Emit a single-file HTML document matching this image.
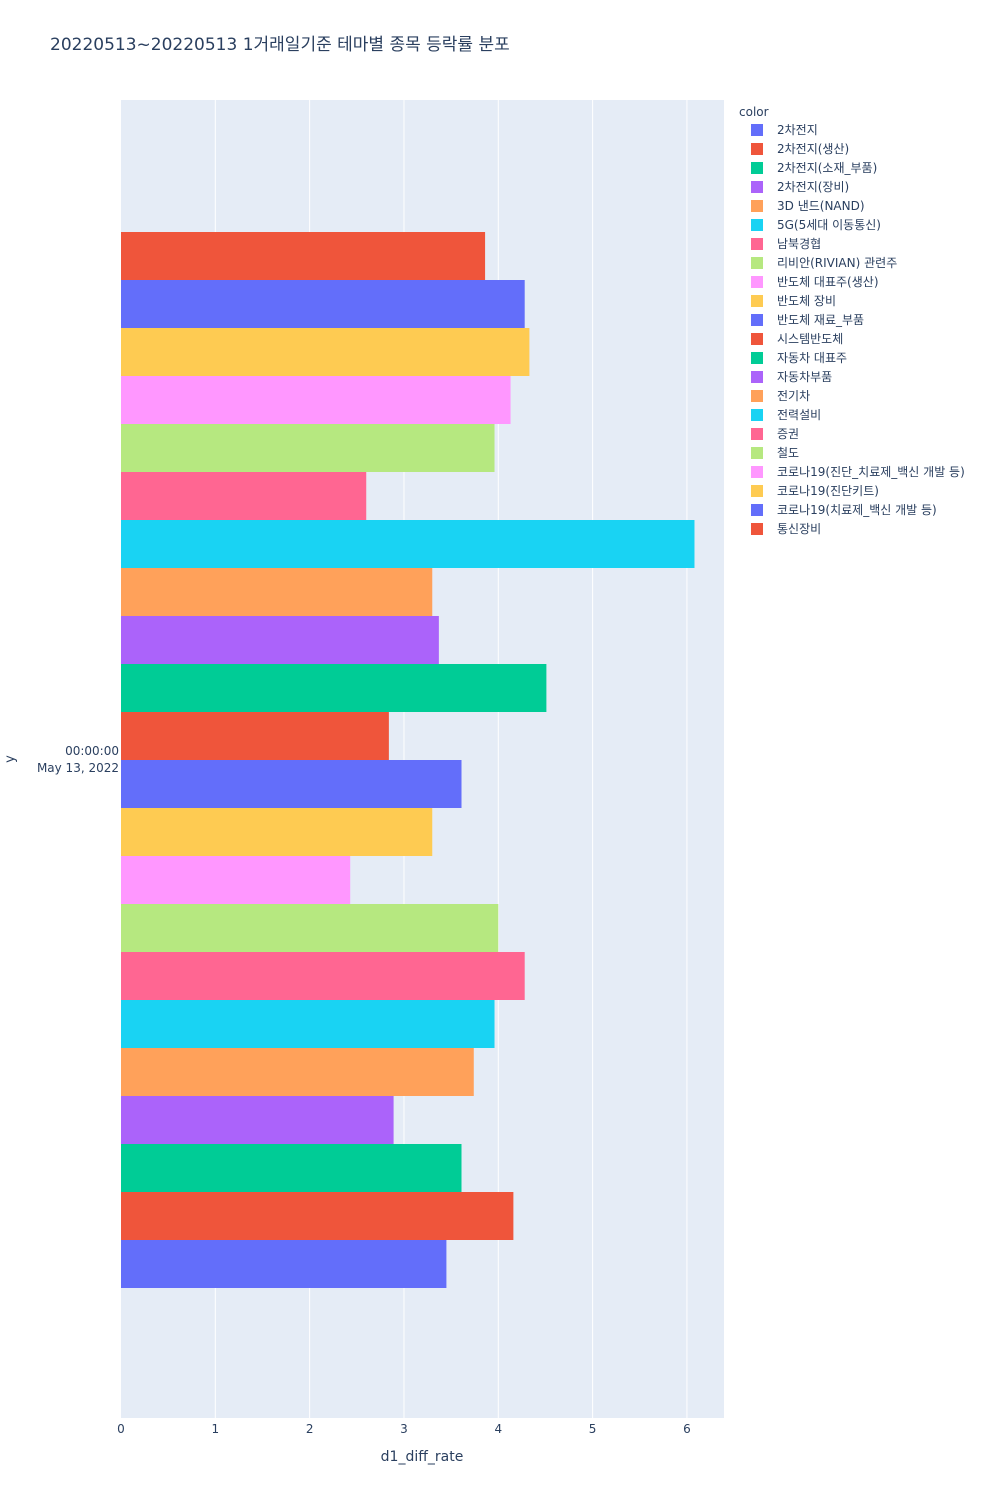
<!DOCTYPE html>
<html><head><meta charset="utf-8"><style>
body{margin:0;background:#fff;font-family:"DejaVu Sans","Noto Sans CJK KR",sans-serif;}
svg text{font-family:"DejaVu Sans","Noto Sans CJK KR",sans-serif;fill:#2a3f5f;}
</style></head><body>
<svg id="chart" width="1000" height="1500">
<text x="50" y="50" font-size="17">20220513~20220513 1거래일기준 테마별 종목 등락률 분포</text>
<rect x="121" y="100" width="603" height="1318" fill="#e5ecf6"/>
<g id="grid"></g><g id="bars"></g><g id="xticks"></g><g id="legend"></g>
<text x="422" y="1461" font-size="14" text-anchor="middle">d1_diff_rate</text>
<text x="14" y="759" font-size="13" text-anchor="middle" transform="rotate(-90 14 759)">y</text>
<text x="119" y="755" font-size="12" text-anchor="end">00:00:00</text>
<text x="119" y="772" font-size="12" text-anchor="end">May 13, 2022</text>
</svg>
<script>
const categories=["2차전지","2차전지(생산)","2차전지(소재_부품)","2차전지(장비)","3D 낸드(NAND)","5G(5세대 이동통신)","남북경협","리비안(RIVIAN) 관련주","반도체 대표주(생산)","반도체 장비","반도체 재료_부품","시스템반도체","자동차 대표주","자동차부품","전기차","전력설비","증권","철도","코로나19(진단_치료제_백신 개발 등)","코로나19(진단키트)","코로나19(치료제_백신 개발 등)","통신장비"];
const values=[3.45,4.16,3.61,2.89,3.74,3.96,4.28,4.0,2.43,3.30,3.61,2.84,4.51,3.37,3.30,6.08,2.60,3.96,4.13,4.33,4.28,3.86];
const xTicks=[0,1,2,3,4,5,6];
const palette=["#636efa","#EF553B","#00cc96","#ab63fa","#FFA15A","#19d3f3","#FF6692","#B6E880","#FF97FF","#FECB52"];
const ns="http://www.w3.org/2000/svg";
const x0=121,xMax=6.393,pw=603,yTop=232,yBot=1288;
const xs=v=>x0+v/xMax*pw;
const bh=(yBot-yTop)/categories.length;
function mk(t,a,p){const e=document.createElementNS(ns,t);for(const k in a)e.setAttribute(k,a[k]);p.appendChild(e);return e;}
const grid=document.getElementById('grid'),xt=document.getElementById('xticks');
xTicks.forEach(t=>{
 if(t>0){const l=mk('line',{x1:xs(t),x2:xs(t),y1:100,y2:1418,stroke:'#fff','stroke-width':1},grid);
 
 }
 const tx=mk('text',{x:xs(t),y:1433,'font-size':12,'text-anchor':'middle'},xt);tx.textContent=t;
 
 
});
const bars=document.getElementById('bars'),lg=document.getElementById('legend');
const lt=mk('text',{x:739,y:116,'font-size':12},lg);lt.textContent='color';


categories.forEach((c,i)=>{
 const col=palette[i%10];
 const y=yBot-(i+1)*bh;
 const r=mk('rect',{x:x0,y:y,width:xs(values[i])-x0,height:bh,fill:col},bars);
 
 
 const ly=130+i*19;
 const s=mk('rect',{x:751,y:ly-6,width:12,height:12,fill:col},lg);
 
 
 const t=mk('text',{x:777,y:ly+4,'font-size':12},lg);t.textContent=c;
 
 
});
</script>
</body></html>
